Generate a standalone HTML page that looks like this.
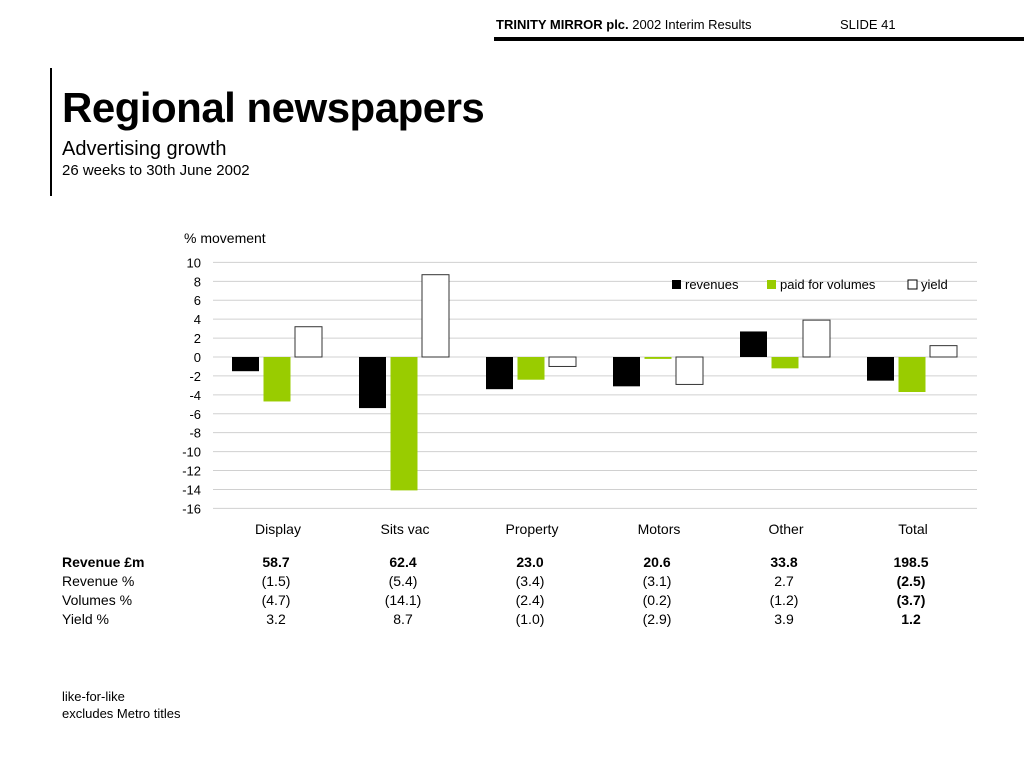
<!DOCTYPE html>
<html><head><meta charset="utf-8">
<style>
body{margin:0;width:1024px;height:768px;background:#fff;font-family:"Liberation Sans",Helvetica,Arial,sans-serif;position:relative;overflow:hidden;color:#000}
.a{position:absolute;white-space:nowrap}
.tbl div{position:absolute;font-size:14px;transform:translateX(-50%)}
</style></head><body>
<div class="a" style="left:496px;top:17px;font-size:13px"><b>TRINITY MIRROR plc.</b> 2002 Interim Results</div>
<div class="a" style="left:840px;top:17px;font-size:13px">SLIDE 41</div>
<div class="a" style="left:494px;top:37px;width:530px;height:4px;background:#000"></div>
<div class="a" style="left:50px;top:68px;width:2px;height:128px;background:#000"></div>
<div class="a" style="left:62px;top:84px;font-size:42px;font-weight:bold;letter-spacing:-0.5px">Regional newspapers</div>
<div class="a" style="left:62px;top:138px;font-size:20px">Advertising growth</div>
<div class="a" style="left:62px;top:162px;font-size:15px">26 weeks to 30th June 2002</div>
<div class="a" style="left:184px;top:230px;font-size:14px">% movement</div>
<svg class="a" style="left:0;top:0" width="1024" height="768" id="chart"></svg>
<div class="tbl" id="tbl"></div>
<div class="a" style="left:62px;top:688px;font-size:13px;line-height:17px">like-for-like<br>excludes Metro titles</div>
<script>
const categories=["Display","Sits vac","Property","Motors","Other","Total"];
const revenues=[-1.5,-5.4,-3.4,-3.1,2.7,-2.5];
const volumes=[-4.7,-14.1,-2.4,-0.2,-1.2,-3.7];
const yieldVals=[3.2,8.7,-1.0,-2.9,3.9,1.2];
const ticks=[10,8,6,4,2,0,-2,-4,-6,-8,-10,-12,-14,-16];
const revenueM=["58.7","62.4","23.0","20.6","33.8","198.5"];
const revPct=["(1.5)","(5.4)","(3.4)","(3.1)","2.7","(2.5)"];
const volPct=["(4.7)","(14.1)","(2.4)","(0.2)","(1.2)","(3.7)"];
const yldPct=["3.2","8.7","(1.0)","(2.9)","3.9","1.2"];
const NS="http://www.w3.org/2000/svg",svg=document.getElementById('chart');
const y=v=>357-v*9.46;
const xc=i=>278+i*127;
function mk(t,a){const e=document.createElementNS(NS,t);for(const k in a)e.setAttribute(k,a[k]);svg.appendChild(e);return e;}
ticks.forEach(t=>{
 const l=mk('line',{x1:213,x2:977,y1:y(t),y2:y(t),stroke:'#d0d0d0','stroke-width':1});
 
 
 const tx=mk('text',{x:201,y:y(t)+5,'text-anchor':'end','font-size':13});
 tx.textContent=t;
 
 
});
const series=[[revenues,'#000','none','revenues'],[volumes,'#99cc00','none','volumes'],[yieldVals,'#fff','#333','yield']];
categories.forEach((c,i)=>{
 series.forEach((s,j)=>{
  const v=s[0][i],x=xc(i)-46+j*31.5;
  const r=mk('rect',{x:x,y:Math.min(y(v),y(0)),width:27,height:Math.abs(y(v)-y(0)),fill:s[1],stroke:s[2]});
  
  
 });
 const t=mk('text',{x:xc(i),y:534,'text-anchor':'middle','font-size':14});
 t.textContent=c;
 
 
});
const leg=[['#000','none','revenues',672],['#99cc00','none','paid for volumes',767],['#fff','#000','yield',908]];
leg.forEach(L=>{
 const r=mk('rect',{x:L[3],y:280,width:9,height:9,fill:L[0],stroke:L[1]});
 
 
 const t=mk('text',{x:L[3]+13,y:289,'font-size':13});
 t.textContent=L[2];
 
 
});
const tbl=document.getElementById('tbl');
function cell(txt,x,yy,bold,left){const d=document.createElement('div');d.textContent=txt;d.style.left=x+'px';d.style.top=yy+'px';if(bold)d.style.fontWeight='bold';if(left)d.style.transform='none';
 
 
 tbl.appendChild(d);}
const rows=[['Revenue £m',revenueM,554,true],['Revenue %',revPct,573,false],['Volumes %',volPct,592,false],['Yield %',yldPct,611,false]];
rows.forEach(r=>{cell(r[0],62,r[2],r[3],true);r[1].forEach((v,i)=>cell(v,xc(i)-2,r[2],r[3]||i==5));});
</script>
</body></html>
